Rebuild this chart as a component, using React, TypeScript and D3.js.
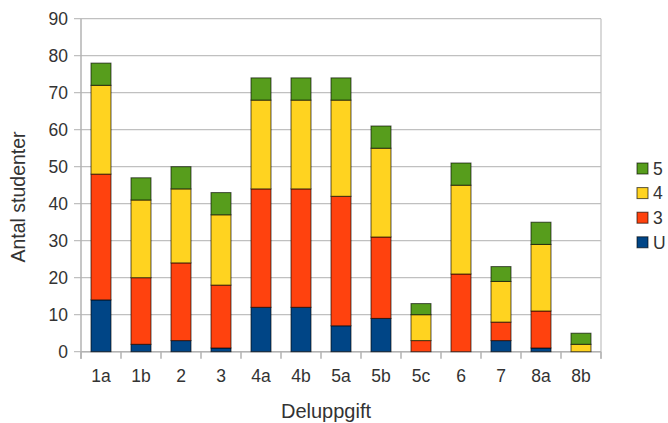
import * as d3 from "d3";

// ----- Data ---------------------------------------------------------------
const categories = ["1a", "1b", "2", "3", "4a", "4b", "5a", "5b", "5c", "6", "7", "8a", "8b"];
const gradeU = [14, 2, 3, 1, 12, 12, 7, 9, 0, 0, 3, 1, 0];
const grade3 = [34, 18, 21, 17, 32, 32, 35, 22, 3, 21, 5, 10, 0];
const grade4 = [24, 21, 20, 19, 24, 24, 26, 24, 7, 24, 11, 18, 2];
const grade5 = [6, 6, 6, 6, 6, 6, 6, 6, 3, 6, 4, 6, 3];
const yTicks = [0, 10, 20, 30, 40, 50, 60, 70, 80, 90];

const seriesKeys = ["U", "3", "4", "5"];
const seriesColors: Record<string, string> = {
  U: "#004586",
  "3": "#ff420e",
  "4": "#ffd320",
  "5": "#579d1c",
};

const W = 668;
const H = 423;
const margin = { top: 18.7, right: 67, bottom: 71.3, left: 81 };
const FONT = "'Liberation Sans', Arial, sans-serif";

export default function App() {
  const rows = categories.map((c, i) => ({
    cat: c,
    U: gradeU[i],
    "3": grade3[i],
    "4": grade4[i],
    "5": grade5[i],
  }));

  const innerW = W - margin.left - margin.right;
  const innerH = H - margin.top - margin.bottom;

  const x = d3
    .scaleBand<string>()
    .domain(categories)
    .range([0, innerW])
    .paddingInner(0.5)
    .paddingOuter(0.25);

  const y = d3.scaleLinear().domain([0, 90]).range([innerH, 0]);

  const stacked = d3.stack<any>().keys(seriesKeys)(rows);

  const step = x.step();
  const boundaries = d3.range(categories.length + 1).map((i) => i * step);

  return (
    <svg
      width={W}
      height={H}
      style={{ position: "absolute", left: 0, top: 0, background: "#fff" }}
      fontFamily={FONT}
    >
      <g transform={`translate(${margin.left},${margin.top})`}>
        {/* grid lines */}
        {yTicks.map((t) => (
          <line
            key={`g${t}`}
            x1={-7}
            x2={innerW}
            y1={y(t)}
            y2={y(t)}
            stroke="#c0c0c0"
            strokeWidth={1.2}
          />
        ))}
        {/* left axis & right border */}
        <line x1={0} x2={0} y1={0} y2={innerH + 7} stroke="#b3b3b3" strokeWidth={1.5} />
        <line x1={innerW} x2={innerW} y1={0} y2={innerH + 7} stroke="#c0c0c0" strokeWidth={1.2} />
        {/* x boundary ticks */}
        {boundaries.map((b, i) => (
          <line
            key={`b${i}`}
            x1={b}
            x2={b}
            y1={innerH}
            y2={innerH + 7}
            stroke="#b3b3b3"
            strokeWidth={1.5}
          />
        ))}
        <line x1={0} x2={innerW} y1={innerH} y2={innerH} stroke="#b3b3b3" strokeWidth={1.5} />

        {/* bars */}
        {stacked.map((s) =>
          s.map((d, i) => {
            const h = y(d[0]) - y(d[1]);
            if (h <= 0) return null;
            return (
              <rect
                key={`${s.key}-${i}`}
                x={x(categories[i])}
                y={y(d[1])}
                width={x.bandwidth()}
                height={h}
                fill={seriesColors[s.key]}
                stroke="rgba(0,0,0,0.65)"
                strokeWidth={1}
              />
            );
          })
        )}

        {/* y tick labels */}
        {yTicks.map((t) => (
          <text
            key={`yl${t}`}
            x={-13}
            y={y(t)}
            dy="0.35em"
            textAnchor="end"
            fontSize={17.5}
            fill="#333"
          >
            {t}
          </text>
        ))}

        {/* x tick labels */}
        {categories.map((c) => (
          <text
            key={`xl${c}`}
            x={(x(c) ?? 0) + x.bandwidth() / 2}
            y={innerH + 30}
            textAnchor="middle"
            fontSize={17.5}
            fill="#333"
          >
            {c}
          </text>
        ))}
      </g>

      {/* axis titles */}
      <text
        transform={`translate(25,197) rotate(-90)`}
        textAnchor="middle"
        fontSize={19.5}
        fill="#333"
      >
        Antal studenter
      </text>
      <text x={326} y={418} textAnchor="middle" fontSize={20} fill="#333">
        Deluppgift
      </text>

      {/* legend */}
      <g transform="translate(637,163)">
        {[...seriesKeys].reverse().map((k, i) => (
          <g key={k} transform={`translate(0,${i * 24.6})`}>
            <rect
              width={11}
              height={11}
              fill={seriesColors[k]}
              stroke="rgba(0,0,0,0.65)"
              strokeWidth={1}
            />
            <text x={16} y={5.5} dy="0.36em" fontSize={17.5} fill="#333">
              {k}
            </text>
          </g>
        ))}
      </g>
    </svg>
  );
}
